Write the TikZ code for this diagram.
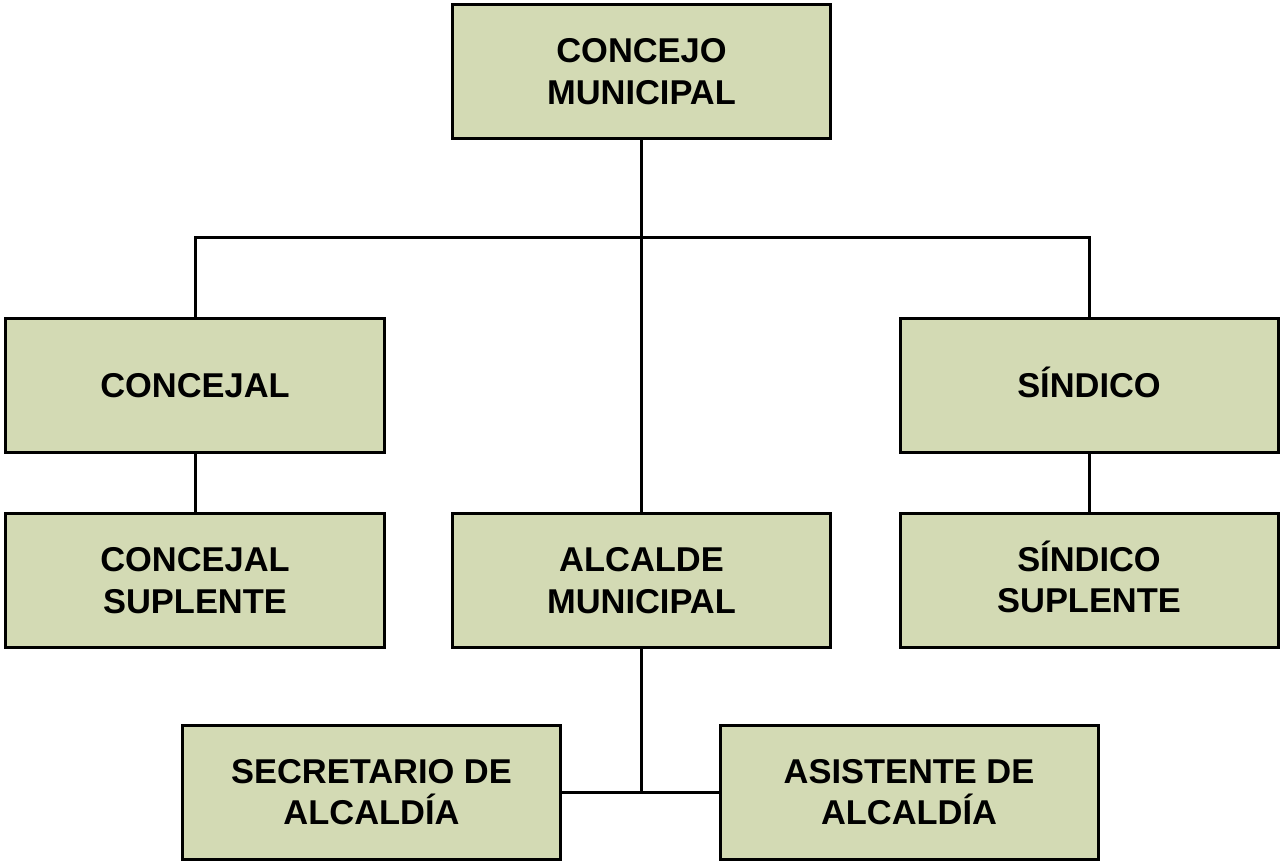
\documentclass[tikz,border=0pt]{standalone}
\usepackage{fontspec}
\setmainfont{Liberation Sans}
\definecolor{verdecaja}{RGB}{211,218,180}
\newcommand{\alto}[1]{\smash{#1}\vphantom{A}}
\tikzset{
  cargo/.style={draw=black,fill=verdecaja,line width=0.03cm,minimum width=3.78cm,
    minimum height=1.34cm,align=center,font=\fontsize{9.8}{11.8}\selectfont\bfseries},
  enlace/.style={line width=0.03cm}
}
\begin{document}
\begin{tikzpicture}
\useasboundingbox (0,0) rectangle (12.82,-8.63);
\node[cargo] (concejo) at (6.415,-.715) {CONCEJO\\MUNICIPAL};
\node[cargo] (concejal) at (1.95,-3.855) {CONCEJAL};
\node[cargo] (sindico) at (10.89,-3.855) {\alto{SÍNDICO}};
\node[cargo] (concejalsup) at (1.95,-5.805) {CONCEJAL\\SUPLENTE};
\node[cargo] (alcalde) at (6.415,-5.805) {ALCALDE\\MUNICIPAL};
\node[cargo] (sindicosup) at (10.89,-5.805) {\alto{SÍNDICO}\\SUPLENTE};
\node[cargo] (secretario) at (3.715,-7.92) {SECRETARIO DE\\ALCALDÍA};
\node[cargo] (asistente) at (9.09,-7.92) {ASISTENTE DE\\ALCALDÍA};
\coordinate (bus) at (6.415,-2.37);
\draw[enlace] (concejo.south) -- (alcalde.north);
\draw[enlace] (concejal.north) |- (bus) -| (sindico.north);
\draw[enlace] (concejal.south) -- (concejalsup.north);
\draw[enlace] (sindico.south) -- (sindicosup.north);
\draw[enlace] (alcalde.south) -- (alcalde.south |- secretario.east);
\draw[enlace] (secretario.east) -- (asistente.west);
\end{tikzpicture}
\end{document}
